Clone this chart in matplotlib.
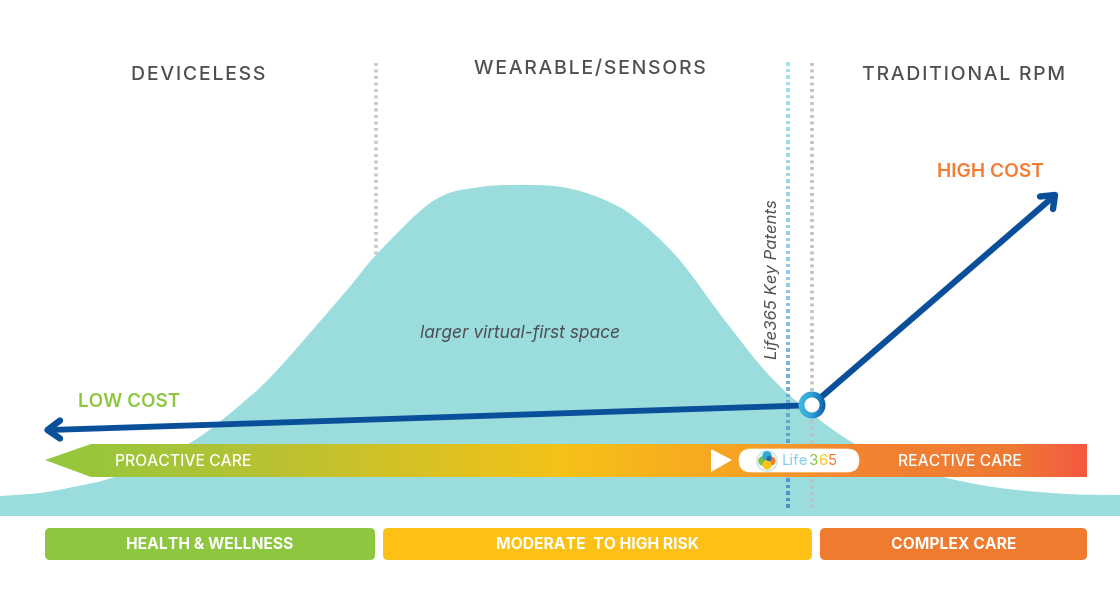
import numpy as np
from matplotlib import pyplot as plt
from matplotlib.colors import LinearSegmentedColormap
from matplotlib.patches import Circle, FancyBboxPatch, PathPatch, Polygon, Wedge
from matplotlib.path import Path


CURVE_X = [0, 40, 73, 117, 190, 247, 280, 347, 377, 433, 480, 533, 567, 600, 633, 677, 723, 767,
           807, 855, 900, 943, 1000, 1067, 1120]
CURVE_Y = [496, 493, 487, 476, 443, 399, 367, 290, 254, 201, 187, 185, 188, 198, 216, 257, 318, 373,
           410, 444, 463, 477, 488, 494, 495]

HEADINGS = ["DEVICELESS", "WEARABLE/SENSORS", "TRADITIONAL RPM"]
HEADING_X = [198, 590, 963]
HEADING_Y = [75.5, 69.5, 75.5]

BAND_LABELS = ["HEALTH & WELLNESS", "MODERATE  TO HIGH RISK", "COMPLEX CARE"]
BAND_LEFT = [45, 383, 820]
BAND_RIGHT = [375, 812, 1087]
BAND_COLORS = ["#8dc63f", "#fdc116", "#ef7b2e"]

BAR_STOPS = [0.0, 0.2, 0.5, 0.65, 0.78, 0.93, 1.0]
BAR_COLORS = ["#92c73e", "#b5c234", "#f6c117", "#f7a722", "#f28431", "#ee7a33", "#f4583f"]

LOGO_PARTS = ["Life", "3", "6", "5"]
LOGO_X = [782, 808.5, 818, 827.5]
LOGO_COLORS = ["#7fd0ea", "#8dc63f", "#fcc419", "#f0743a"]

FONT = "Inter"


def spaced(text):
    return "\u200a".join(text)


def bell_path(xs, ys, base):
    # bezier through the read points, closed along the base line
    pts = np.column_stack([xs, ys]).astype(float)
    verts = [(xs[0], base), pts[0]]
    codes = [Path.MOVETO, Path.LINETO]
    for i in range(len(pts) - 1):
        before = pts[max(i - 1, 0)]
        after = pts[min(i + 2, len(pts) - 1)]
        verts += [pts[i] + (pts[i + 1] - before) / 6, pts[i + 1] - (after - pts[i]) / 6, pts[i + 1]]
        codes += [Path.CURVE4] * 3
    verts += [(xs[-1], base), (xs[0], base)]
    codes += [Path.LINETO, Path.CLOSEPOLY]
    return Path(verts, codes)


def main():
    plt.rcParams["font.family"] = [FONT, "DejaVu Sans"]
    fig = plt.figure(figsize=(11.2, 6.14), dpi=100)
    ax = fig.add_axes([0, 0, 1, 1])

    # dotted dividers sit behind the bell
    ax.plot([376, 376], [63, 258], color="#c4c6c8", lw=2.6, ls=(0, (0.8, 1.0)), zorder=1)
    ax.plot([812, 812], [63, 510], color="#bdbfc1", lw=2.6, ls=(0, (0.8, 1.0)), zorder=3)
    cmap = LinearSegmentedColormap.from_list("patent", ["#9fe3ea", "#8fcbe6", "#4f8fc4"])
    dots = np.arange(64, 512, 6.5)
    ax.scatter([788] * len(dots), dots, c=dots, cmap=cmap, s=7, marker="s", lw=0, zorder=3)

    ax.add_patch(PathPatch(bell_path(CURVE_X, CURVE_Y, 516), fc="#9bdcdd", ec="none", zorder=2))

    # gradient bar with a pointed left end
    cmap = LinearSegmentedColormap.from_list("care", list(zip(BAR_STOPS, BAR_COLORS)))
    grad = ax.imshow(np.linspace(0, 1, 1024).reshape(1, -1), cmap=cmap, aspect="auto",
                     extent=(45, 1087, 477, 444), zorder=4)
    outline = Polygon([(45, 460), (91, 444), (1087, 444), (1087, 477), (91, 477)],
                      transform=ax.transData, fc="none", ec="none")
    ax.add_patch(outline)
    grad.set_clip_path(outline)

    ax.text(183, 461, "PROACTIVE CARE", color="white", fontsize=11.3, fontweight="medium",
            ha="center", va="center", zorder=5)
    ax.text(960, 461, "REACTIVE CARE", color="white", fontsize=11.3, fontweight="medium",
            ha="center", va="center", zorder=5)

    ax.add_patch(Polygon([(711, 449), (711, 472), (732, 460)], fc="white", ec="none", zorder=5))
    ax.add_patch(FancyBboxPatch((739, 449), 120, 23, boxstyle="round,pad=0,rounding_size=11.5",
                                fc="white", ec="white", lw=0.5, zorder=5))

    # logo
    ax.add_patch(Circle((767, 461), 10, fc="white", ec="#bfe6ee", lw=1, zorder=6))
    ax.add_patch(Circle((763, 461), 4.8, fc="#7fbf42", ec="none", zorder=7))
    ax.add_patch(Circle((767, 456), 4.8, fc="#35a9d6", ec="none", zorder=7))
    ax.add_patch(Circle((771, 461), 4.6, fc="#f07b2d", ec="none", zorder=7))
    ax.add_patch(Circle((767, 465), 4.6, fc="#fcc419", ec="none", zorder=8))
    ax.add_patch(Circle((769, 458.5), 2.6, fc="#1c6fb4", ec="none", zorder=9))
    for part, x, color in zip(LOGO_PARTS, LOGO_X, LOGO_COLORS):
        ax.text(x, 461, part, color=color, fontsize=10.8, ha="left", va="center", zorder=6)

    # cost arrows
    ax.plot([802, 50], [405.5, 430], color="#0a4f9a", lw=4.2, solid_capstyle="butt", zorder=6)
    ax.plot([60, 47.5, 60], [420.5, 430, 438.5], color="#0a4f9a", lw=4.6, solid_capstyle="round",
            solid_joinstyle="round", zorder=6)
    ax.plot([812, 1053], [405, 197], color="#0a4f9a", lw=4.4, solid_capstyle="butt", zorder=6)
    ax.plot([1040, 1055, 1053], [196.5, 195, 209], color="#0a4f9a", lw=4.6, solid_capstyle="round",
            solid_joinstyle="round", zorder=6)

    # ring at the joint, light blue on the left to dark blue on the right
    ax.add_patch(Circle((812, 405), 8, fc="white", ec="none", zorder=7))
    cmap = LinearSegmentedColormap.from_list("ring", ["#45bbe2", "#2f9fd8", "#0f5aa6"])
    ring_img = ax.imshow(np.linspace(0, 1, 64).reshape(1, -1), cmap=cmap, aspect="auto",
                         extent=(798, 826, 419, 391), zorder=8)
    ring = Wedge((812, 405), 13.5, 0, 360, width=6, transform=ax.transData, fc="none", ec="none")
    ax.add_patch(ring)
    ring_img.set_clip_path(ring)

    for label, x, y in zip(HEADINGS, HEADING_X, HEADING_Y):
        ax.text(x, y, spaced(label), color="#4d4f51", fontsize=14, fontweight="medium",
                ha="center", va="center")

    ax.text(129, 402, "LOW COST", color="#8dc63f", fontsize=13.6, fontweight="semibold",
            ha="center", va="center", zorder=9)
    ax.text(990, 172, "HIGH COST", color="#f47c30", fontsize=13.8, fontweight="semibold",
            ha="center", va="center", zorder=9)
    ax.text(520, 333, "larger virtual-first space", color="#4d4f51", fontsize=12.5,
            style="italic", ha="center", va="center", zorder=9)
    ax.text(772, 279, "Life365 Key Patents", color="#4d4f51", fontsize=12, style="italic",
            rotation=90, ha="center", va="center", zorder=9)

    for label, left, right, color in zip(BAND_LABELS, BAND_LEFT, BAND_RIGHT, BAND_COLORS):
        ax.add_patch(FancyBboxPatch((left + 5, 533), right - left - 10, 22,
                                    boxstyle="round,pad=5,rounding_size=5",
                                    fc=color, ec="none", zorder=3))
        ax.text((left + right) / 2, 544.5, label, color="white", fontsize=11.3, fontweight="bold",
                ha="center", va="center", zorder=4)

    ax.set_xlim(0, 1120)
    ax.set_ylim(614, 0)
    ax.axis("off")
    fig.savefig("out.png", dpi=100, facecolor="white")
    plt.close(fig)


if __name__ == "__main__":
    main()
